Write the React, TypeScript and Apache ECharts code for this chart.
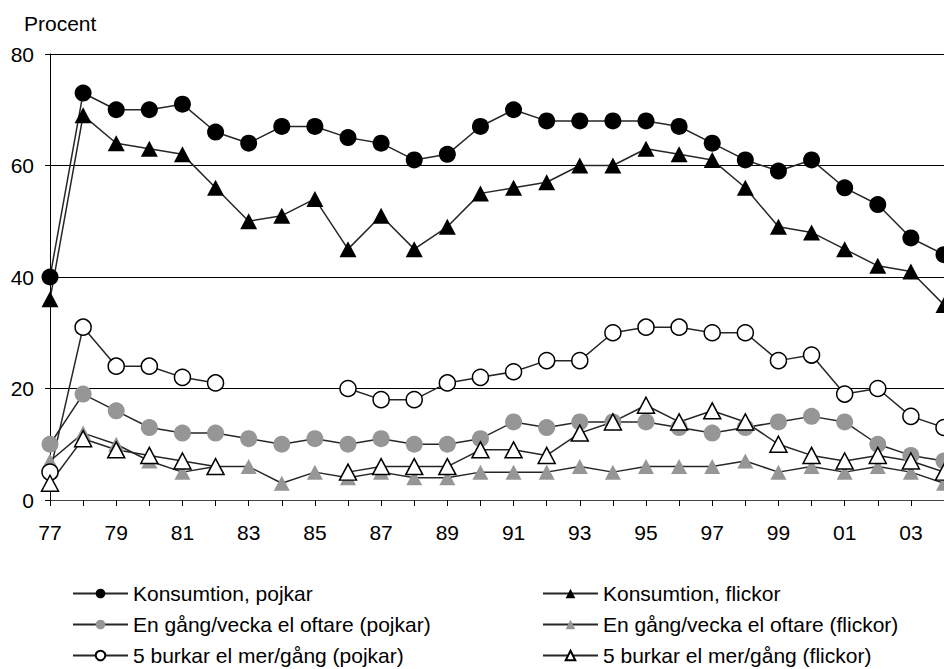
import React, { useEffect, useRef } from "react";
import * as echarts from "echarts";

const years = ["77","78","79","80","81","82","83","84","85","86","87","88","89","90","91","92","93","94","95","96","97","98","99","00","01","02","03","04"];
const konsPojkar = [40,73,70,70,71,66,64,67,67,65,64,61,62,67,70,68,68,68,68,67,64,61,59,61,56,53,47,44];
const konsFlickor = [36,69,64,63,62,56,50,51,54,45,51,45,49,55,56,57,60,60,63,62,61,56,49,48,45,42,41,35];
const enGangPojkar = [10,19,16,13,12,12,11,10,11,10,11,10,10,11,14,13,14,14,14,13,12,13,14,15,14,10,8,7];
const enGangFlickor = [7,12,10,7,5,6,6,3,5,4,5,4,4,5,5,5,6,5,6,6,6,7,5,6,5,6,5,3];
const burkarPojkar = [5,31,24,24,22,21,null,null,null,20,18,18,21,22,23,25,25,30,31,31,30,30,25,26,19,20,15,13];
const burkarFlickor = [3,11,9,8,7,6,null,null,null,5,6,6,6,9,9,8,12,14,17,14,16,14,10,8,7,8,7,5];
const yTicks = [0, 20, 40, 60, 80];

const FONT = "'Liberation Sans', Arial, sans-serif";
const GRAY = "#969696";
const LINE = "#262626";

export default function App() {
  const ref = useRef<HTMLDivElement>(null);
  useEffect(() => {
    if (!ref.current) return;
    const chart = echarts.init(ref.current, undefined, { renderer: "svg" });
    const mk = (name: string, data: (number | null)[], symbol: string, fill: string, size: number | number[]) => ({
      name,
      type: "line",
      data,
      symbol,
      symbolSize: size,
      showAllSymbol: true,
      connectNulls: false,
      clip: false,
      lineStyle: { color: LINE, width: 1.5 },
      itemStyle: { color: fill, borderColor: fill === "#fff" ? "#000" : fill, borderWidth: fill === "#fff" ? 1.5 : 0 },
      emphasis: { disabled: true },
    });
    const legendBase = {
      orient: "vertical",
      itemWidth: 55,
      itemHeight: 12,
      itemGap: 10,
      top: 578,
      height: 120,
      textStyle: { fontFamily: FONT, fontSize: 21, lineHeight: 21, color: "#000" },
      selectedMode: false,
    };
    chart.setOption({
      animation: false,
      textStyle: { fontFamily: FONT },
      title: {
        text: "Procent",
        left: 19,
        top: 8,
        textStyle: { fontFamily: FONT, fontSize: 21, fontWeight: "normal", color: "#000" },
      },
      grid: { left: 50, right: -1, top: 54, bottom: 169, containLabel: false },
      xAxis: {
        type: "category",
        data: years,
        boundaryGap: false,
        axisLine: { lineStyle: { color: "#444", width: 1 } },
        axisTick: { show: true, interval: 0, length: 6, lineStyle: { color: "#000" } },
        axisLabel: { interval: 1, margin: 22, fontSize: 21, color: "#000", fontFamily: FONT },
      },
      yAxis: {
        type: "value",
        min: yTicks[0],
        max: yTicks[yTicks.length - 1],
        interval: 20,
        axisLine: { show: true, lineStyle: { color: "#000", width: 1 } },
        axisTick: { show: true, length: 5, lineStyle: { color: "#000" } },
        axisLabel: { margin: 16, fontSize: 21, color: "#000", fontFamily: FONT },
        splitLine: { show: true, lineStyle: { color: "#000", width: 1 } },
      },
      legend: [
        {
          ...legendBase,
          left: 67,
          data: ["Konsumtion, pojkar", "En gång/vecka el oftare (pojkar)", "5 burkar el mer/gång (pojkar)"],
        },
        {
          ...legendBase,
          left: 537,
          data: ["Konsumtion, flickor", "En gång/vecka el oftare (flickor)", "5 burkar el mer/gång (flickor)"],
        },
      ],
      series: [
        mk("Konsumtion, pojkar", konsPojkar, "circle", "#000", 17),
        mk("Konsumtion, flickor", konsFlickor, "triangle", "#000", [17, 16]),
        mk("En gång/vecka el oftare (pojkar)", enGangPojkar, "circle", GRAY, 17),
        mk("En gång/vecka el oftare (flickor)", enGangFlickor, "triangle", GRAY, [16, 15]),
        mk("5 burkar el mer/gång (pojkar)", burkarPojkar, "circle", "#fff", 16),
        mk("5 burkar el mer/gång (flickor)", burkarFlickor, "triangle", "#fff", [17, 16]),
      ],
    });
    return () => chart.dispose();
  }, []);
  return <div ref={ref} style={{ position: "absolute", left: 0, top: 0, width: 944, height: 669, background: "#fff" }} />;
}
